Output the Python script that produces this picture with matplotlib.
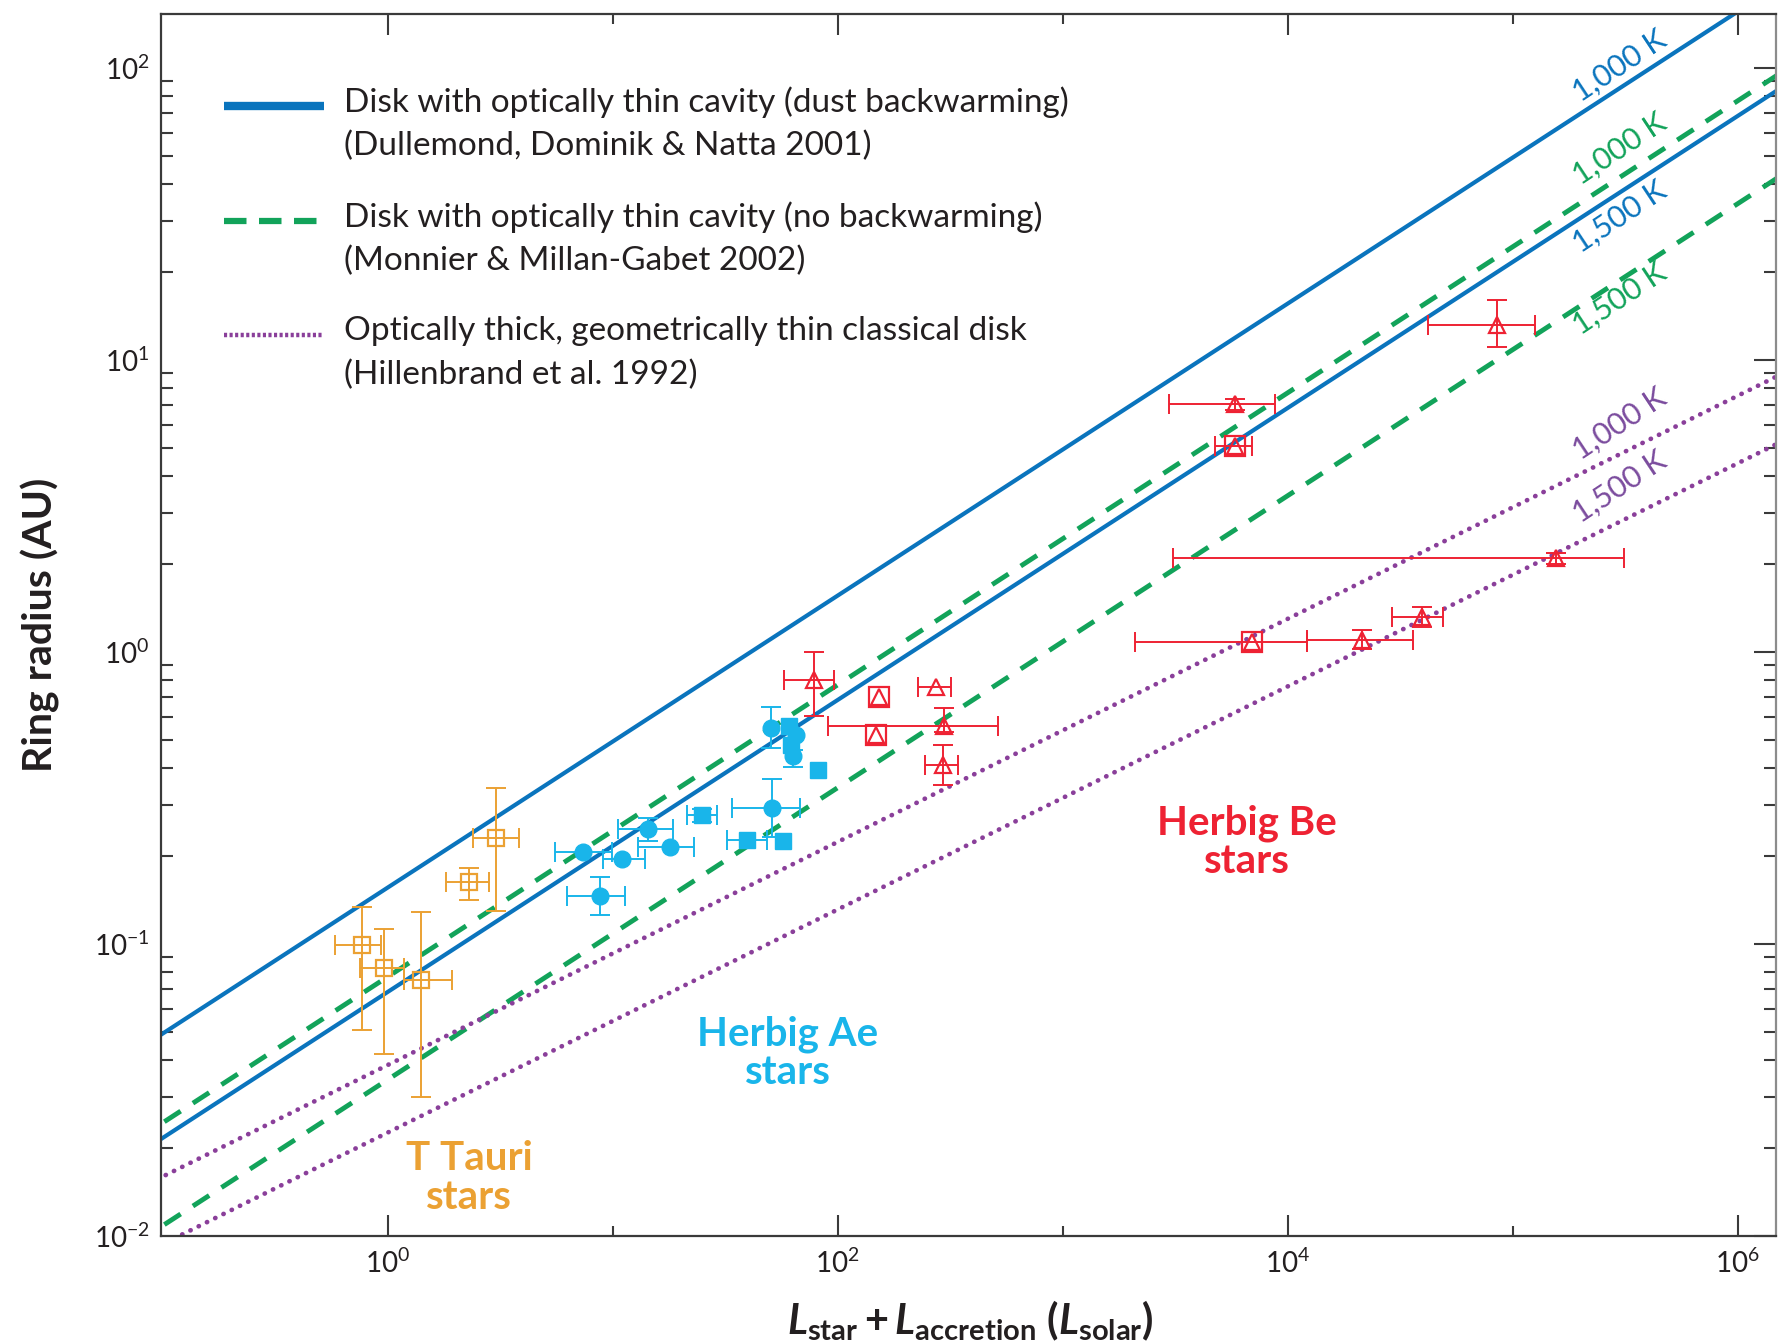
import numpy as np
import matplotlib.pyplot as plt
from matplotlib.ticker import FixedLocator, LogLocator, NullFormatter

plt.rcParams['font.family'] = ['Lato', 'DejaVu Sans']
plt.rcParams['mathtext.fontset'] = 'custom'
plt.rcParams['mathtext.rm'] = 'Lato:bold'
plt.rcParams['mathtext.it'] = 'Lato:italic:bold'
plt.rcParams['mathtext.bf'] = 'Lato:bold'

TEXT = '#231f20'
BLUE = '#0a74bd'
GREEN = '#12a35a'
PURPLE = '#8a3f9a'
TTAURI = '#eba133'
HAE = '#19b5ea'
HBE = '#ee2233'

# model curves, R = coef * L**slope, one coefficient per sublimation temperature
temp_labels = ['1,000 K', '1,500 K']
backwarm_coef = [0.156, 0.0685]
nobackwarm_coef = [0.0772, 0.0343]
thick_coef = [0.0385, 0.0226]
thin_slope = 0.5
thick_slope = 0.382

# T Tauri stars (open squares)
tt_L = [0.766, 0.962, 1.406, 2.298, 3.017]
tt_L_lo = [0.582, 0.751, 1.178, 1.812, 2.384]
tt_L_hi = [0.932, 1.178, 1.923, 2.823, 3.818]
tt_R = [0.0993, 0.0826, 0.0753, 0.1627, 0.230]
tt_R_lo = [0.0507, 0.0419, 0.030, 0.142, 0.130]
tt_R_hi = [0.1343, 0.1122, 0.129, 0.1816, 0.3413]

# Herbig Ae stars, filled circles
nan = np.nan
aec_L = [7.40, 10.96, 8.78, 14.4, 17.98, 50.9, 50.5, 65.0, 63.0]
aec_R = [0.207, 0.1955, 0.146, 0.247, 0.2153, 0.293, 0.551, 0.52, 0.44]
aec_L_lo = [5.54, 9.05, 6.25, 10.6, 13.0, 33.8, nan, nan, nan]
aec_L_hi = [9.90, 13.9, 11.34, 18.6, 22.97, 68.0, nan, nan, nan]
aec_R_lo = [nan, nan, 0.1257, 0.225, nan, 0.233, 0.469, nan, 0.405]
aec_R_hi = [nan, nan, 0.170, 0.269, nan, 0.366, 0.65, nan, 0.46]

# Herbig Ae stars, filled squares
aes_L = [24.9, 39.4, 56.9, 61.0, 62.0, 82.0]
aes_R = [0.2766, 0.227, 0.226, 0.56, 0.48, 0.394]
aes_L_lo = [21.3, 32.1, nan, nan, nan, nan]
aes_L_hi = [29.0, 48.4, nan, nan, nan, nan]
aes_R_lo = [0.262, nan, nan, nan, nan, nan]
aes_R_hi = [0.29, nan, nan, nan, nan, nan]

# Herbig Be stars (open triangles)
be_L = [78.1, 273.5, 298.0, 292.3, 5855, 84800, 156200, 39500, 21460,
        153.2, 148.5, 5855, 6955]
be_R = [0.802, 0.757, 0.558, 0.410, 7.06, 13.18, 2.094, 1.32, 1.099,
        0.703, 0.520, 5.06, 1.085]
be_L_lo = [58.0, 226.6, 90.3, 245.0, 2966, 42200, 3080, 29140, 12190,
           nan, nan, 4740, 2096]
be_L_hi = [96.5, 319.8, 515.9, 341.7, 8745, 125800, 310800, 48800, 36200,
           nan, nan, 6960, 12190]
be_R_lo = [0.604, nan, 0.53, 0.350, 6.75, 11.05, 2.0, 1.22, 1.02,
           nan, nan, nan, nan]
be_R_hi = [1.0, nan, 0.641, 0.480, 7.35, 16.05, 2.19, 1.43, 1.19,
           nan, nan, nan, nan]
be_boxed = [False] * 9 + [True] * 4

# group names and where they sit (L, R)
group_names = ['T Tauri\nstars', 'Herbig Ae\nstars', 'Herbig Be\nstars']
group_pos = [(2.30, 0.0158), (60.0, 0.0423), (6560.0, 0.2228)]
group_colors = [TTAURI, HAE, HBE]


def draw_errors(ax, L, R, L_lo, L_hi, R_lo, R_hi, color):
    L, R = np.asarray(L, float), np.asarray(R, float)
    L_lo, L_hi = np.asarray(L_lo, float), np.asarray(L_hi, float)
    R_lo, R_hi = np.asarray(R_lo, float), np.asarray(R_hi, float)
    kw = dict(fmt='none', ecolor=color, elinewidth=1.4, capsize=7,
              capthick=1.4, zorder=4)
    m = np.isfinite(L_lo)
    if m.any():
        ax.errorbar(L[m], R[m], xerr=[L[m] - L_lo[m], L_hi[m] - L[m]], **kw)
    m = np.isfinite(R_lo)
    if m.any():
        ax.errorbar(L[m], R[m], yerr=[R[m] - R_lo[m], R_hi[m] - R[m]], **kw)


fig = plt.figure(figsize=(17.85, 13.42), dpi=100)
ax = fig.add_axes([0.0900, 0.0790, 0.9052, 0.9106])
ax.set_xscale('log')
ax.set_yscale('log')
ax.set_xlim(10 ** -1.009, 10 ** 6.172)
ax.set_ylim(0.01, 10 ** 2.185)

Lgrid = np.logspace(-1.5, 6.5, 400)
for c in backwarm_coef:
    ax.plot(Lgrid, c * Lgrid ** thin_slope, color=BLUE, lw=3.0,
            solid_capstyle='butt', zorder=2)
for c in nobackwarm_coef:
    ax.plot(Lgrid, c * Lgrid ** thin_slope, color=GREEN, lw=3.5,
            dashes=(4.0, 3.0), zorder=2)
for c in thick_coef:
    ax.plot(Lgrid, c * Lgrid ** thick_slope, color=PURPLE, lw=3.4,
            linestyle=(0, (0.05, 1.9)), dash_capstyle='round', zorder=2)

# temperature tags along the curves
L_tag = 3.0e5
tag_specs = [
    (backwarm_coef[0], thin_slope, 16.0, BLUE, temp_labels[0]),
    (nobackwarm_coef[0], thin_slope, 20.0, GREEN, temp_labels[0]),
    (backwarm_coef[1], thin_slope, -18.0, BLUE, temp_labels[1]),
    (nobackwarm_coef[1], thin_slope, -13.5, GREEN, temp_labels[1]),
    (thick_coef[0], thick_slope, 21.5, '#7b4c9e', temp_labels[0]),
    (thick_coef[1], thick_slope, 25.0, '#7b4c9e', temp_labels[1]),
]
for c, s, dy, col, txt in tag_specs:
    ax.annotate(txt, xy=(L_tag, c * L_tag ** s), xytext=(0, dy),
                textcoords='offset points', rotation=33.5,
                rotation_mode='anchor', ha='center', va='center',
                color=col, fontsize=22)

# data
draw_errors(ax, tt_L, tt_R, tt_L_lo, tt_L_hi, tt_R_lo, tt_R_hi, TTAURI)
ax.plot(tt_L, tt_R, linestyle='none', marker='s', ms=12, mfc='none',
        mec=TTAURI, mew=1.6, zorder=5)

draw_errors(ax, aec_L, aec_R, aec_L_lo, aec_L_hi, aec_R_lo, aec_R_hi, HAE)
draw_errors(ax, aes_L, aes_R, aes_L_lo, aes_L_hi, aes_R_lo, aes_R_hi, HAE)
ax.plot(aec_L, aec_R, linestyle='none', marker='o', ms=12, color=HAE,
        zorder=5)
ax.plot(aes_L, aes_R, linestyle='none', marker='s', ms=11, color=HAE,
        zorder=5)

draw_errors(ax, be_L, be_R, be_L_lo, be_L_hi, be_R_lo, be_R_hi, HBE)
ax.plot(be_L, be_R, linestyle='none', marker='^', ms=11, mfc='none',
        mec=HBE, mew=1.6, zorder=5)
be_box_L = [l for l, b in zip(be_L, be_boxed) if b]
be_box_R = [r for r, b in zip(be_R, be_boxed) if b]
ax.plot(be_box_L, be_box_R, linestyle='none', marker='s', ms=14, mfc='none',
        mec=HBE, mew=1.6, zorder=5)

for name, (gx, gy), col in zip(group_names, group_pos, group_colors):
    ax.text(gx, gy, name, color=col, fontsize=29, fontweight='bold',
            ha='center', va='center', linespacing=1.05)

# legend drawn by hand so the key sits on the first line of each entry
legend_rows = [
    (0.9247, dict(color=BLUE, lw=6.0, solid_capstyle='butt'),
     'Disk with optically thin cavity (dust backwarming)',
     '(Dullemond, Dominik & Natta 2001)'),
    (0.8306, dict(color=GREEN, lw=4.5, dashes=(3.6, 2.0)),
     'Disk with optically thin cavity (no backwarming)',
     '(Monnier & Millan-Gabet 2002)'),
    (0.7373, dict(color=PURPLE, lw=3.2, linestyle=(0, (0.7, 0.55))),
     'Optically thick, geometrically thin classical disk',
     '(Hillenbrand et al. 1992)'),
]
for y, style, line1, line2 in legend_rows:
    ax.plot([0.0392, 0.101], [y, y], transform=ax.transAxes, clip_on=False,
            **style)
    ax.text(0.1134, y + 0.003, line1, transform=ax.transAxes, fontsize=24,
            color=TEXT, va='center', ha='left')
    ax.text(0.1134, y + 0.003 - 0.0353, line2, transform=ax.transAxes,
            fontsize=24, color=TEXT, va='center', ha='left')

# axes and ticks
ax.xaxis.set_major_locator(FixedLocator([1e0, 1e2, 1e4, 1e6]))
ax.xaxis.set_minor_locator(FixedLocator([1e1, 1e3, 1e5]))
ax.xaxis.set_minor_formatter(NullFormatter())
ax.yaxis.set_major_locator(LogLocator(base=10, numticks=10))
ax.yaxis.set_minor_locator(LogLocator(base=10, subs=np.arange(2, 10),
                                      numticks=20))
ax.yaxis.set_minor_formatter(NullFormatter())
ax.tick_params(which='both', direction='in', top=True, right=True,
               color='#3a3a3a', width=1.5, labelsize=20, labelcolor=TEXT)
ax.tick_params(axis='x', which='major', length=15, pad=9)
ax.tick_params(axis='x', which='minor', length=7.5)
ax.tick_params(axis='y', which='major', length=16, pad=8)
ax.tick_params(axis='y', which='minor', length=8.5)
for t in ax.yaxis.get_major_ticks():
    t.tick1line.set_markersize(0)

for side, sp in ax.spines.items():
    sp.set_linewidth(1.6)
    sp.set_color('#8c8c8c' if side == 'right' else '#3a3a3a')

ax.set_xlabel(r'$L_{\mathrm{star}} + L_{\mathrm{accretion}}$ ($L_{\mathrm{solar}}$)',
              fontsize=30, fontweight='bold', color=TEXT, va='center')
ax.xaxis.set_label_coords(0.5009, -0.0692)
ax.set_ylabel('Ring radius (AU)', fontsize=29.5, fontweight='bold',
              color=TEXT, va='center')
ax.yaxis.set_label_coords(-0.0747, 0.5004)

fig.savefig('out.png', dpi=100)
